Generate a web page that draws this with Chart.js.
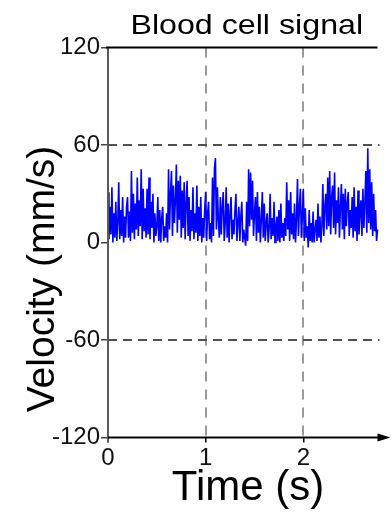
<!DOCTYPE html>
<html>
<head>
<meta charset="utf-8">
<title>Blood cell signal</title>
<script src="https://cdn.jsdelivr.net/npm/chart.js@4.4.1/dist/chart.umd.min.js"></script>
<style>
  html, body { margin: 0; padding: 0; background: #fff; }
  canvas { display: block; }
</style>
</head>
<body>
<canvas id="signalChart" width="391" height="512"></canvas>
<script>
'use strict';

/* ── data ── */
const TITLE       = 'Blood cell signal';
const X_LABEL     = 'Time (s)';
const Y_LABEL     = 'Velocity (mm/s)';
const SAMPLE_STEP = 0.01;                 // s between samples
const X_RANGE     = [0, 2.78];
const Y_RANGE     = [-120, 120];
const X_TICKS     = [0, 1, 2];
const Y_TICKS     = [-120, -60, 0, 60, 120];
const H_DASHES    = [60, -60];
const V_DASHES    = [1, 2];

// velocity samples, 10 per 0.1 s
const VELOCITY = [
  31, 2, 22, 5, 34, 0, 18, 3, 25, 1,
  12, 37, 2, 20, 4, 28, 0, 16, 3, 22,
  28, 3, 19, 1, 44, 6, 30, 2, 24, 8,
  40, 4, 26, 10, 45, 2, 33, 7, 21, 3,
  33, 5, 40, 2, 25, 9, 30, 0, 18, 4,
  10, 28, 1, 20, 0, 15, 22, 1, 10, 3,
  18, 0, 45, 8, 30, 44, 4, 35, 12, 26,
  48, 6, 38, 14, 41, 3, 32, 9, 37, 2,
  24, 38, 4, 28, 1, 20, 7, 34, 2, 18,
  6, 35, 1, 22, 4, 28, 0, 15, 3, 20,
  31, 1, 18, 25, 2, 12, 0, 40, 4, 45,
  52, 8, 34, 14, 3, 28, 5, 22, 31, 1,
  12, 34, 3, 24, 0, 18, 28, 2, 14, 5,
  20, 30, 1, 12, 22, 1, 16, 25, 0, 8,
  3, -2, 25, 1, 45, 10, 43, 14, 38, 4,
  18, 28, 1, 31, 6, 22, 0, 14, 31, 3,
  24, 1, 12, 18, 0, 9, 30, 2, 15, 4,
  25, 0, 10, 16, 1, 20, 0, 24, 3, 12,
  1, 15, 4, 37, 8, 26, 1, 31, 5, 18,
  2, 24, 0, 14, 39, 4, 22, 33, 3, 16,
  33, 1, 21, 3, 10, -3, 20, 1, 12, 0,
  19, 0, 8, 14, 1, 24, 3, 16, 0, 10,
  36, 4, 22, 30, 8, 40, 10, 44, 5, 28,
  35, 9, 43, 5, 26, 12, 34, 3, 22, 36,
  8, 30, 2, 33, 10, 24, 31, 4, 20, 9,
  28, 3, 34, 7, 22, 1, 32, 5, 18, 26,
  4, 33, 9, 24, 44, 6, 58, 12, 45, 8,
  37, 4, 30, 7, 20, 1, 8
];

const FONT = "'Liberation Sans', Arial, sans-serif";

/* ── dashed guides, axes with arrow, titles ── */
const decor = {
  id: 'decor',
  beforeDatasetsDraw(chart) {
    const { ctx, chartArea: a, scales: { x, y } } = chart;
    ctx.save();
    ctx.lineWidth = 2;
    ctx.strokeStyle = '#9a9a9a';
    ctx.setLineDash([10, 8]);
    V_DASHES.forEach(v => {
      const px = Math.round(x.getPixelForValue(v));
      ctx.beginPath();
      ctx.moveTo(px, a.top);
      ctx.lineTo(px, a.bottom);
      ctx.stroke();
    });
    ctx.strokeStyle = '#505050';
    ctx.setLineDash([9, 6]);
    H_DASHES.forEach(v => {
      const py = Math.round(y.getPixelForValue(v));
      ctx.beginPath();
      ctx.moveTo(a.left, py);
      ctx.lineTo(a.right, py);
      ctx.stroke();
    });
    ctx.restore();
  },
  afterDatasetsDraw(chart) {
    const { ctx, chartArea: a } = chart;
    ctx.save();
    ctx.setLineDash([]);
    ctx.lineWidth = 2;

    // y axis
    ctx.strokeStyle = '#5a5a5a';
    ctx.beginPath();
    ctx.moveTo(a.left, a.top);
    ctx.lineTo(a.left, a.bottom + 5);
    ctx.stroke();

    // top line at 120
    ctx.strokeStyle = '#000';
    ctx.beginPath();
    ctx.moveTo(a.left - 2, a.top);
    ctx.lineTo(a.right - 2, a.top);
    ctx.stroke();

    // x axis with arrow
    ctx.beginPath();
    ctx.moveTo(a.left, a.bottom);
    ctx.lineTo(a.right + 2, a.bottom);
    ctx.stroke();
    ctx.fillStyle = '#000';
    ctx.beginPath();
    ctx.moveTo(a.right + 11, a.bottom);
    ctx.lineTo(a.right - 2, a.bottom - 4);
    ctx.lineTo(a.right - 2, a.bottom + 4);
    ctx.closePath();
    ctx.fill();

    // texts
    ctx.fillStyle = '#000';
    ctx.textAlign = 'center';
    ctx.textBaseline = 'alphabetic';

    ctx.save();
    ctx.translate((a.left + a.right) / 2 + 3, 34);
    ctx.scale(1.15, 1);
    ctx.font = `28px ${FONT}`;
    ctx.fillText(TITLE, 0, 0);
    ctx.restore();

    ctx.font = `42px ${FONT}`;
    ctx.fillText(X_LABEL, 248, 500);

    ctx.save();
    ctx.translate(54, 279);
    ctx.rotate(-Math.PI / 2);
    ctx.font = `39px ${FONT}`;
    ctx.fillText(Y_LABEL, 0, 0);
    ctx.restore();

    ctx.restore();
  }
};

const points = VELOCITY.map((v, i) => ({ x: i * SAMPLE_STEP, y: v }));

new Chart(document.getElementById('signalChart'), {
  type: 'line',
  data: {
    datasets: [{
      data: points,
      borderColor: '#0000ff',
      borderWidth: 1.6,
      pointRadius: 0,
      tension: 0,
      fill: false
    }]
  },
  options: {
    responsive: false,
    animation: false,
    events: [],
    layout: { padding: { top: 47.5, right: 11.5, left: 0, bottom: 0 } },
    plugins: { legend: { display: false }, tooltip: { enabled: false }, title: { display: false } },
    scales: {
      x: {
        type: 'linear',
        min: X_RANGE[0],
        max: X_RANGE[1],
        afterBuildTicks: s => { s.ticks = X_TICKS.map(v => ({ value: v })); },
        afterFit: s => { s.height = 74.5; },
        border: { display: false },
        grid: { drawOnChartArea: false, tickLength: 5, color: '#000', lineWidth: 1.5 },
        ticks: { font: { family: FONT, size: 24 }, color: '#111', padding: 1, maxRotation: 0 }
      },
      y: {
        min: Y_RANGE[0],
        max: Y_RANGE[1],
        afterBuildTicks: s => { s.ticks = Y_TICKS.map(v => ({ value: v })); },
        afterFit: s => { s.width = 108; },
        border: { display: false },
        grid: { drawOnChartArea: false, tickLength: 7, color: '#444', lineWidth: 1.5 },
        ticks: { font: { family: FONT, size: 24 }, color: '#111', padding: 1 }
      }
    }
  },
  plugins: [decor]
});
</script>
</body>
</html>
